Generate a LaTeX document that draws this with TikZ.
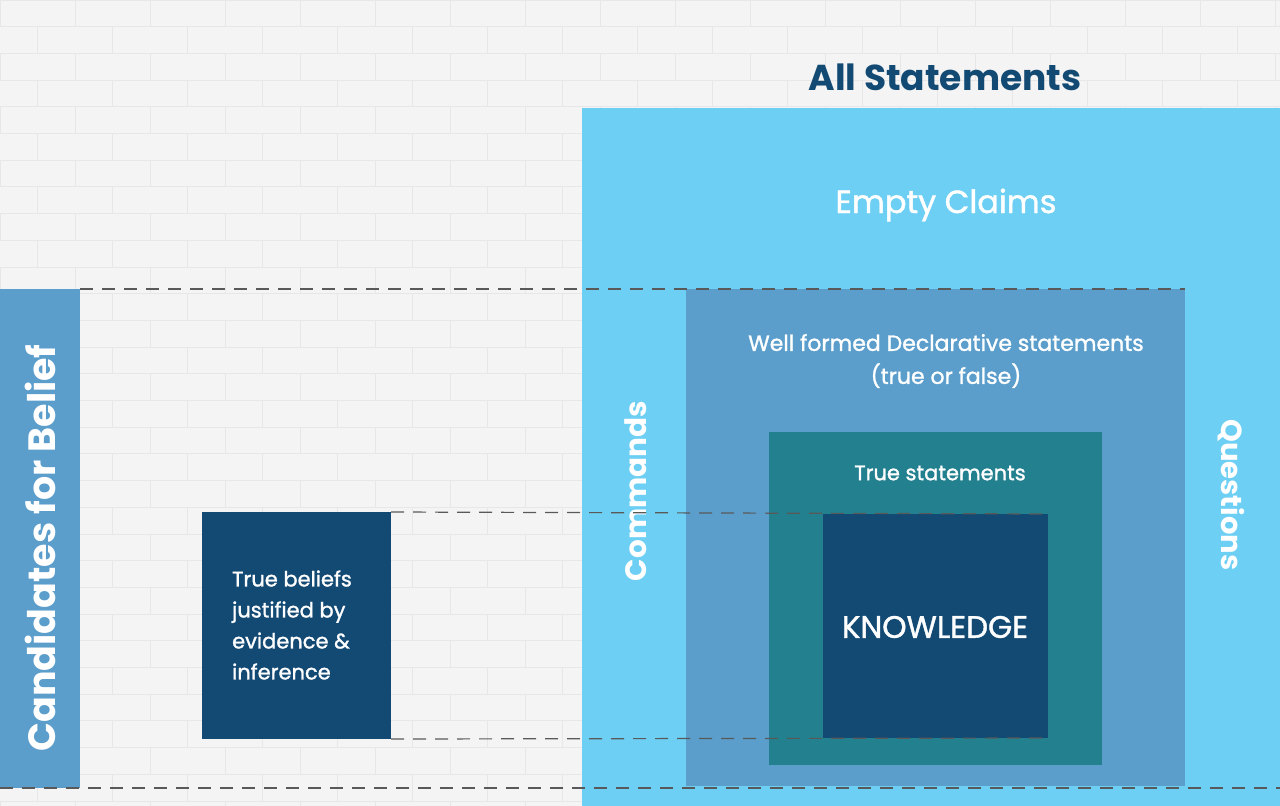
\documentclass[tikz,border=0pt]{standalone}
\usepackage{fontspec}
\setmainfont{Poppins}
\newfontfamily\medfont{Poppins}[FakeBold=1.3]
\usetikzlibrary{positioning}

\definecolor{wallgray}{HTML}{F4F4F4}
\definecolor{mortar}{HTML}{E7E7E7}
\definecolor{skyblue}{HTML}{6DCFF3}
\definecolor{midblue}{HTML}{5B9ECB}
\definecolor{tealbox}{HTML}{23808F}
\definecolor{navy}{HTML}{134A74}

\tikzset{
  box/.style={anchor=north west,inner sep=0pt,outer sep=0pt},
  lbl/.style={text=white,inner sep=0pt},
  guide/.style={draw=black!65,line width=1.2pt,dash pattern=on 13pt off 9pt},
}

\begin{document}
\begin{tikzpicture}[x=1pt,y=-1pt]
\useasboundingbox (0,0) rectangle (1280,806);
\fill[wallgray] (0,0) rectangle (1280,806);
% brick wall
\foreach \r in {0,...,30} {
  \draw[mortar,line width=1pt] (0,{\r*26.7}) -- (1280,{\r*26.7});
  \foreach \c in {0,...,17}
    \draw[mortar,line width=1pt] ({\c*75+mod(\r,2)*37.5},{\r*26.7}) -- ++(0,26.7);
}

% nested boxes
\node[box,fill=skyblue,minimum width=698,minimum height=698] (all) at (582,108) {};
\node[box,fill=midblue,minimum width=499,minimum height=497] (well) at (686,289) {};
\node[box,fill=tealbox,minimum width=333,minimum height=333] (true) at (769,432) {};
\node[box,fill=navy,minimum width=225,minimum height=224] (know) at (823,514) {};

% left side
\node[box,fill=midblue,minimum width=80,minimum height=499] (cand) at (0,289) {};
\node[box,fill=navy,minimum width=189,minimum height=227] (belief) at (202,512) {};

% labels
\node[text=navy,inner sep=0pt,font=\bfseries\fontsize{36}{40}\selectfont] (title) at (945,77) {All Statements};
\node[lbl,font=\medfont\fontsize{32}{38}\selectfont] (empty) at (946,205) {Empty Claims};
\node[lbl,align=center,font=\medfont\fontsize{22}{33}\selectfont] (wellt) at (946,361)
  {Well formed Declarative statements\\(true or false)};
\node[lbl,font=\medfont\fontsize{21}{26}\selectfont] (truet) at (940,473) {True statements};
\node[lbl,font=\medfont\fontsize{31}{36}\selectfont] (knowt) at (935,627) {KNOWLEDGE};
\node[lbl,rotate=90,font=\bfseries\fontsize{29.5}{34}\selectfont] (cmd) at (636,491) {Commands};
\node[lbl,rotate=-90,font=\bfseries\fontsize{29}{34}\selectfont] (qst) at (1231,495) {Questions};
\node[lbl,rotate=90,font=\bfseries\fontsize{38}{44}\selectfont] (candt) at (40,548) {Candidates for Belief};
\node[lbl,align=left,font=\medfont\fontsize{21}{31}\selectfont] (belieft) at (292,625)
  {True beliefs\\justified by\\evidence \&\\inference};

% dashed guides
\draw[guide] (cand.north east) -- (well.north east);
\draw[guide] (belief.north east) -- (know.north east);
\draw[guide] (belief.south east) -- (know.south east);
\draw[guide] (cand.south west) -- (cand.south west -| all.east);
\end{tikzpicture}
\end{document}
